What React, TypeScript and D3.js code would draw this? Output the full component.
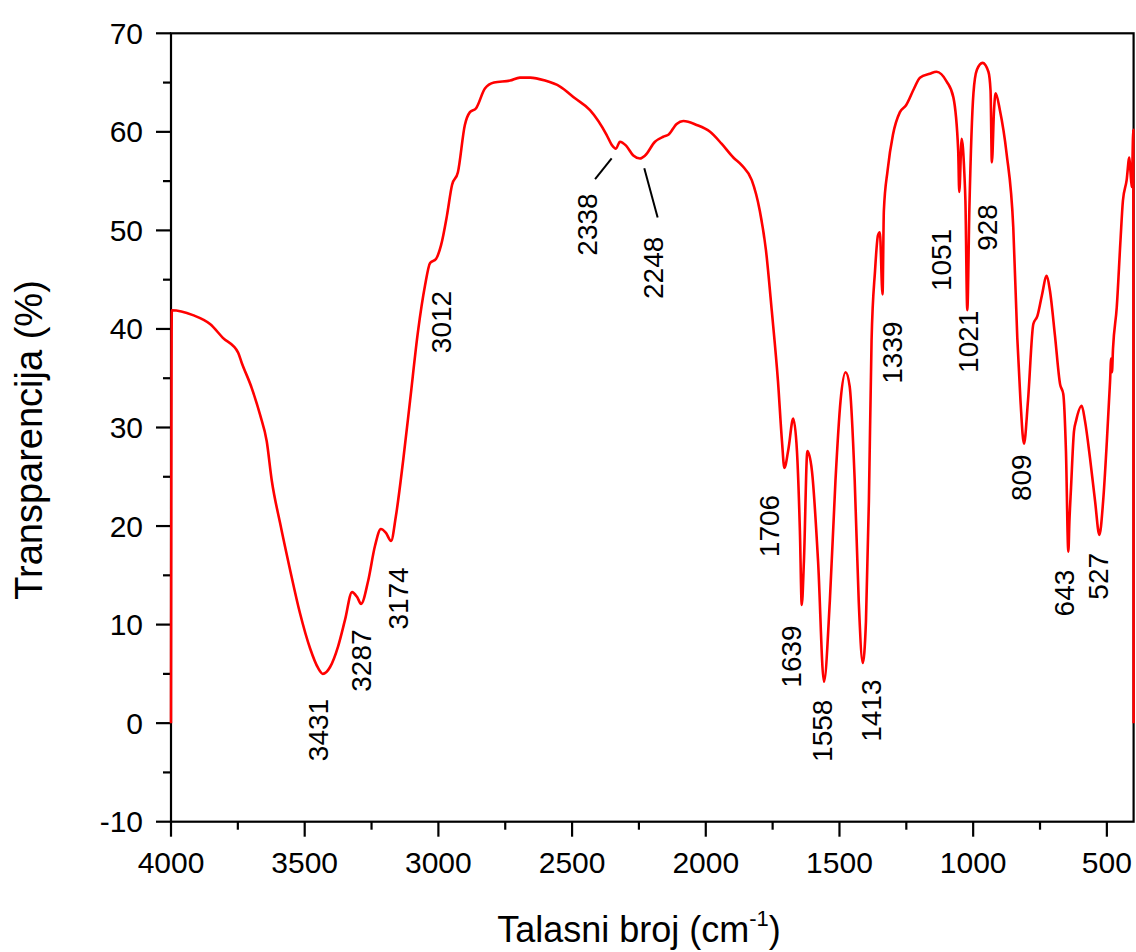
import React from "react";
import * as d3 from "d3";

const wavenumbers = [
  4000, 3997, 3918, 3854, 3806, 3749, 3736, 3698, 3667, 3642, 3623, 3592, 3555, 3518, 3480, 3450, 3432,
  3405, 3375, 3349, 3323, 3304, 3289, 3263, 3237, 3215, 3196, 3177, 3159, 3132, 3106, 3076, 3050,
  3031, 3009, 2990, 2968, 2949, 2927, 2901, 2882, 2859, 2826, 2792, 2732, 2695, 2657, 2601, 2545,
  2489, 2433, 2371, 2352, 2336, 2321, 2298, 2271, 2246, 2227, 2190, 2159, 2140, 2109, 2084, 2034,
  1984, 1941, 1897, 1865, 1828, 1798, 1775, 1753, 1730, 1715, 1706, 1691, 1673, 1659, 1648, 1641,
  1633, 1620, 1603, 1580, 1558, 1536, 1515, 1496, 1477, 1462, 1443, 1428, 1413, 1401, 1390, 1380,
  1367, 1356, 1349, 1339, 1334, 1320, 1300, 1274, 1251, 1221, 1199, 1162, 1137, 1099, 1074, 1056,
  1052, 1043, 1033, 1029, 1022, 1014, 999, 986, 965, 943, 935, 930, 922, 916, 900, 875, 850, 835,
  823, 810, 795, 775, 760, 743, 725, 713, 694, 675, 663, 653, 644, 640, 634, 623, 615, 594, 582,
  563, 544, 528, 514, 500, 488, 484, 481, 477, 463, 449, 440, 426, 416, 412, 407, 401, 400
];

const transmittance = [
  0, 41.9, 41.4, 40.5, 39.1, 37.6, 36.6, 34.0, 31.3, 28.6, 24.6, 20.3, 15.6, 11.2, 7.6, 5.6, 5.0,
  5.7, 7.8, 10.5, 13.3, 12.8, 12.1, 14.4, 18.0, 19.7, 19.3, 18.5, 21.0, 26.6, 32.7, 39.8, 44.4,
  46.7, 47.1, 48.5, 51.5, 54.6, 55.9, 60.7, 62.0, 62.4, 64.4, 65.0, 65.2, 65.5, 65.5, 65.2, 64.6,
  63.4, 62.2, 59.7, 58.7, 58.3, 59.0, 58.6, 57.6, 57.3, 57.6, 59.0, 59.5, 59.7, 60.8, 61.1, 60.7,
  60.0, 58.8, 57.4, 56.6, 55.1, 52.0, 48.0, 41.8, 34.7, 28.6, 25.9, 27.8, 30.9, 27.6, 19.5, 12.0,
  16.4, 27.6, 25.6, 16.4, 4.2, 12.4, 24.6, 32.7, 35.6, 34.2, 24.6, 12.4, 6.1, 10.3, 22.5, 38.8,
  45.9, 49.5, 49.8, 43.5, 52.0, 56.1, 59.7, 62.0, 62.7, 64.4, 65.5, 65.9, 66.1, 65.1, 63.5, 58.1,
  53.9, 59.3, 55.8, 53.0, 41.9, 52.4, 63.9, 66.3, 67.0, 66.1, 64.2, 56.9, 62.2, 63.9, 62.2, 57.8, 50.3, 39.1,
  32.7, 28.35, 32.7, 40.5, 41.3, 43.4, 45.4, 43.9, 39.3, 34.4, 33.4, 27.6, 17.4, 20.5, 23.9, 29.6, 30.7, 32.2, 30.7,
  26.9, 22.5, 19.1, 22.5, 28.6, 34.7, 37.0, 35.6, 38.0, 42.2, 49.0, 53.0, 55.1, 57.4, 56.1, 54.4, 60.2, 0
];

const xTickValues = [4000, 3500, 3000, 2500, 2000, 1500, 1000, 500];
const xMinorTicks = [3750, 3250, 2750, 2250, 1750, 1250, 750];
const yTickValues = [-10, 0, 10, 20, 30, 40, 50, 60, 70];
const yMinorTicks = [-5, 5, 15, 25, 35, 45, 55, 65];

const peakLabels = ["3431", "3287", "3174", "3012", "2338", "2248", "1706", "1639", "1558", "1413", "1339", "1051", "1021", "928", "809", "643", "527"];
const peakLabelX = [3450, 3286, 3151, 2990, 2441, 2197, 1760, 1681, 1562, 1380, 1300, 1117, 1019, 945, 821, 657, 530];
const peakLabelY = [-0.7, 6.35, 12.65, 40.7, 50.6, 46.2, 20.0, 6.76, -0.77, 1.27, 37.6, 47.0, 38.7, 50.3, 24.9, 13.2, 14.9];

const leaderFromX = [2414, 2230];
const leaderFromY = [55.2, 56.3];
const leaderToX = [2352, 2180];
const leaderToY = [57.3, 51.3];

const W = 1136;
const H = 952;
const FONT = "Arial, 'Liberation Sans', sans-serif";

export default function App() {
  const x = d3.scaleLinear().domain([4000, 400]).range([171, 1133.6]);
  const y = d3.scaleLinear().domain([-10, 70]).range([821.7, 33.3]);
  const pts: [number, number][] = wavenumbers.map((w, i) => [w, transmittance[i]]);
  const line = d3
    .line<[number, number]>()
    .x((d) => x(d[0]))
    .y((d) => y(d[1]))
    .curve(d3.curveMonotoneX);
  const x0 = x.range()[0];
  const x1 = x.range()[1];
  const y0 = y.range()[0];
  const y1 = y.range()[1];

  return (
    <svg
      width={W}
      height={H}
      viewBox={`0 0 ${W} ${H}`}
      style={{ position: "absolute", left: 0, top: 0, background: "#fff" }}
    >
      <rect x={0} y={0} width={W} height={H} fill="#fff" />
      {/* frame */}
      <rect x={x0} y={y1} width={x1 - x0} height={y0 - y1} fill="none" stroke="#000" strokeWidth={2.2} />
      {/* y ticks */}
      {yTickValues.map((v) => (
        <g key={"yt" + v}>
          <line x1={x0 - 15} x2={x0} y1={y(v)} y2={y(v)} stroke="#000" strokeWidth={2.2} />
          <text
            x={x0 - 28}
            y={y(v)}
            textAnchor="end"
            dominantBaseline="central"
            fontFamily={FONT}
            fontSize={30}
            fill="#000"
          >
            {v}
          </text>
        </g>
      ))}
      {yMinorTicks.map((v) => (
        <line key={"ym" + v} x1={x0 - 8} x2={x0} y1={y(v)} y2={y(v)} stroke="#000" strokeWidth={2.2} />
      ))}
      {/* x ticks */}
      {xTickValues.map((v) => (
        <g key={"xt" + v}>
          <line x1={x(v)} x2={x(v)} y1={y0} y2={y0 + 15} stroke="#000" strokeWidth={2.2} />
          <text x={x(v)} y={873} textAnchor="middle" fontFamily={FONT} fontSize={30} fill="#000">
            {v}
          </text>
        </g>
      ))}
      {xMinorTicks.map((v) => (
        <line key={"xm" + v} x1={x(v)} x2={x(v)} y1={y0} y2={y0 + 8} stroke="#000" strokeWidth={2.2} />
      ))}
      {/* spectrum */}
      <path d={line(pts) || ""} fill="none" stroke="#ff0000" strokeWidth={2.6} strokeLinejoin="round" />
      {/* axis titles */}
      <text x={639} y={942} textAnchor="middle" fontFamily={FONT} fontSize={36} fill="#000">
        Talasni broj (cm
        <tspan fontSize={22} dy={-16}>
          -1
        </tspan>
        <tspan dy={16}>)</tspan>
      </text>
      <text
        transform={`translate(42, 440) rotate(-90)`}
        textAnchor="middle"
        fontFamily={FONT}
        fontSize={38}
        fill="#000"
      >
        Transparencija (%)
      </text>
      {/* leader lines */}
      {leaderFromX.map((w, i) => (
        <line
          key={"ld" + i}
          x1={x(w)}
          y1={y(leaderFromY[i])}
          x2={x(leaderToX[i])}
          y2={y(leaderToY[i])}
          stroke="#000"
          strokeWidth={2}
        />
      ))}
      {/* peak labels */}
      {peakLabels.map((t, i) => (
        <text
          key={"pl" + t}
          transform={`translate(${x(peakLabelX[i])}, ${y(peakLabelY[i])}) rotate(-90)`}
          textAnchor="middle"
          dominantBaseline="central"
          fontFamily={FONT}
          fontSize={28}
          fill="#000"
        >
          {t}
        </text>
      ))}
    </svg>
  );
}
